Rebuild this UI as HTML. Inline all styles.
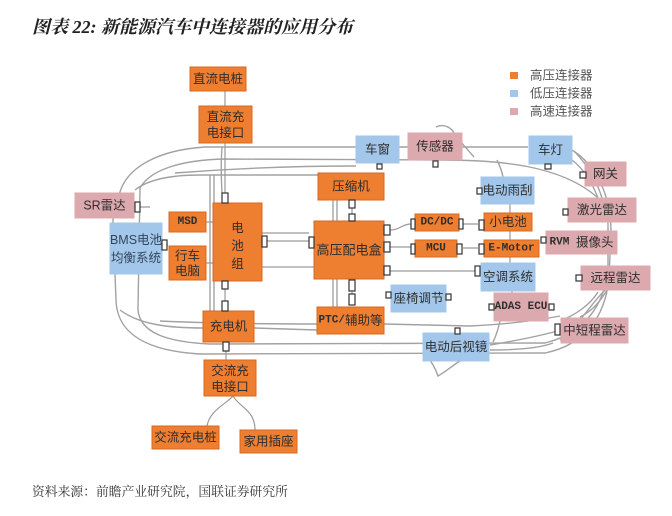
<!DOCTYPE html>
<html><head><meta charset="utf-8">
<style>
html,body{margin:0;padding:0;background:#fff;}
body{width:672px;height:516px;overflow:hidden;position:relative;}
svg{position:absolute;left:0;top:0;}
.t{font-family:"Liberation Sans","Noto Sans CJK SC",sans-serif;font-size:12.5px;fill:#2e2e2e;text-anchor:middle;dominant-baseline:central;}
.m{font-family:"Liberation Mono","Noto Sans CJK SC",monospace;font-size:11px;fill:#2e2e2e;text-anchor:middle;dominant-baseline:central;font-weight:bold;}
.o{fill:#EE7E30;stroke:#D8691E;stroke-width:1;}
.b{fill:#A3C7EA;stroke:#A3C7EA;stroke-width:1;}
.p{fill:#DCA9AE;stroke:#DCA9AE;stroke-width:1;}
.car{fill:none;stroke:#a2a2a2;stroke-width:1.4;}
.ln{fill:none;stroke:#9a9a9a;stroke-width:1.2;}
.c{fill:#fff;stroke:#333;stroke-width:1.2;}
.lg{font-family:"Liberation Sans","Noto Sans CJK SC",sans-serif;font-size:12.5px;fill:#555;dominant-baseline:central;}
</style></head><body>
<svg width="672" height="516" viewBox="0 0 672 516" xmlns="http://www.w3.org/2000/svg">
<text x="32" y="27" style="font-family:'Liberation Serif','Noto Serif CJK SC',serif;font-size:18px;font-weight:bold;font-style:italic;fill:#222;dominant-baseline:central;">图表 22: 新能源汽车中连接器的应用分布</text>

<!-- car outline -->
<path class="car" d="M120,192 C128,166 160,150 205,147 L528,147 M572,150 C596,165 611,195 611,232 L609,278 C605,318 584,345 545,353 L200,354 C148,351 117,335 116,300 L113,222 C113,206 116,198 120,192"/>
<path class="car" d="M140,188 C150,170 180,160 225,159 L440,160 C500,160 560,165 597,197 L608,222 L608,270 C604,305 585,333 545,343 L210,344 C165,342 140,332 138,310 Z"/>
<path class="car" d="M135,190 C150,178 175,175 200,175 L318,175"/>
<path class="car" d="M175,173 C240,168 300,166 356,166"/>
<path class="car" d="M160,321 C200,323 260,324 317,324 M384,324 L470,326 C510,324 540,320 560,316"/>
<path class="car" d="M120,310 C140,325 170,328 203,328 M254,328 L317,330"/>
<path class="car" d="M210,175 L210,323 M214,175 L214,323 M333,175 L333,323 M337,200 L337,307"/>
<path class="car" d="M222,147 C221,160 221,175 222,193"/>
<path class="car" d="M436,127 C442,124 448,126 452,130 C460,142 468,150 474,157"/>
<path class="car" d="M497,160 C500,166 502,172 503,177"/>
<path class="car" d="M572,160 C585,170 593,185 598,198 M575,152 C590,168 598,185 602,198"/>
<path class="car" d="M607,290 C598,305 590,312 580,317 M598,292 C590,305 575,315 562,320 M553,343 C540,348 520,350 490,350"/>
<path class="car" d="M490,345 C520,340 540,336 561,330 M560,340 C575,330 590,305 605,290"/>
<path class="car" d="M426,355 C432,362 436,370 438,376 C445,372 452,366 460,361"/>
<path class="car" d="M500,321 C498,330 496,336 493,342"/>

<!-- connection lines -->
<path class="ln" d="M225,91 L225,106 M225,143 L225,193 M225,289 L225,301 M226,351 L226,360"/>
<path class="ln" d="M262,233 L309,233 M262,241 L309,241 M262,267 L314,267"/>
<path class="ln" d="M206,222 L213,222 M206,263 L213,263 M140,207 L150,207 M162,245 L168,245"/>
<path class="ln" d="M352,208 L352,214 M352,291 L352,294"/>
<path class="ln" d="M390,230 C400,230 402,224 411,224 M463,224 L478,224 M390,247 L411,247 M463,248 L478,248 M390,271 L475,271"/>
<path class="ln" d="M510,204 L510,213 M510,231 L510,240 M510,257 L510,263 M512,291 L512,293"/>
<path class="ln" d="M233,396 C225,405 210,410 207,426 M233,396 C240,408 255,410 255,430"/>

<!-- boxes -->
<rect class="o" x="190" y="67" width="56" height="24"/><text class="t" x="218" y="79">直流电桩</text>
<rect class="o" x="199" y="106" width="53" height="37"/><text class="t" x="225.5" y="117">直流充</text><text class="t" x="225.5" y="133">电接口</text>
<rect class="p" x="75" y="193" width="59" height="25"/><text class="t" x="104.5" y="205.5">SR雷达</text>
<rect class="b" x="110" y="223" width="52" height="51"/><text class="t" x="136" y="240" style="fill:#34455e">BMS电池</text><text class="t" x="136" y="258" style="fill:#34455e">均衡系统</text>
<rect class="o" x="169" y="212" width="37" height="20"/><text class="m" x="187.5" y="222">MSD</text>
<rect class="o" x="169" y="246" width="37" height="34"/><text class="t" x="187.5" y="256">行车</text><text class="t" x="187.5" y="271">电脑</text>
<rect class="o" x="213" y="203" width="49" height="78"/><text class="t" x="237.5" y="228">电</text><text class="t" x="237.5" y="246">池</text><text class="t" x="237.5" y="264">组</text>
<rect class="o" x="318" y="173" width="66" height="27"/><text class="t" x="351" y="186.5">压缩机</text>
<rect class="o" x="314" y="221" width="70" height="58"/><text class="t" x="349" y="250" style="font-size:13px">高压配电盒</text>
<rect class="o" x="317" y="307" width="67" height="27"/><text class="t" x="350.5" y="320.5"><tspan style="font-family:'Liberation Mono',monospace;font-size:11px;font-weight:bold">PTC/</tspan>辅助等</text>
<rect class="o" x="203" y="311" width="51" height="31"/><text class="t" x="228.5" y="326.5">充电机</text>
<rect class="o" x="204" y="360" width="52" height="36"/><text class="t" x="230" y="371">交流充</text><text class="t" x="230" y="387">电接口</text>
<rect class="o" x="152" y="426" width="67" height="23"/><text class="t" x="185.5" y="437.5">交流充电桩</text>
<rect class="o" x="240" y="430" width="57" height="23"/><text class="t" x="268.5" y="441.5">家用插座</text>
<rect class="b" x="356" y="136" width="43" height="27"/><text class="t" x="377.5" y="149.5">车窗</text>
<rect class="p" x="408" y="133" width="54" height="27"/><text class="t" x="435" y="146.5">传感器</text>
<rect class="b" x="529" y="136" width="43" height="28"/><text class="t" x="550.5" y="150">车灯</text>
<rect class="p" x="585" y="162" width="41" height="24"/><text class="t" x="605.5" y="174">网关</text>
<rect class="b" x="481" y="177" width="53" height="27"/><text class="t" x="507.5" y="190.5">电动雨刮</text>
<rect class="p" x="568" y="198" width="68" height="24"/><text class="t" x="602" y="210">激光雷达</text>
<rect class="o" x="415" y="214" width="44" height="17"/><text class="m" x="437" y="222.5">DC/DC</text>
<rect class="o" x="484" y="213" width="48" height="18"/><text class="t" x="508" y="222">小电池</text>
<rect class="o" x="415" y="240" width="42" height="17"/><text class="m" x="436" y="248.5">MCU</text>
<rect class="o" x="484" y="240" width="55" height="17"/><text class="m" x="511.5" y="248.5">E-Motor</text>
<rect class="p" x="546" y="231" width="71" height="23"/><text class="t" x="581.5" y="242.5"><tspan style="font-family:'Liberation Mono',monospace;font-size:11px;font-weight:bold">RVM </tspan>摄像头</text>
<rect class="b" x="481" y="263" width="54" height="28"/><text class="t" x="508" y="277">空调系统</text>
<rect class="p" x="581" y="266" width="69" height="24"/><text class="t" x="615.5" y="278">远程雷达</text>
<rect class="b" x="391" y="285" width="55" height="27"/><text class="t" x="418.5" y="298.5">座椅调节</text>
<rect class="p" x="494" y="293" width="54" height="28"/><text class="m" x="521" y="307">ADAS ECU</text>
<rect class="p" x="561" y="318" width="67" height="25"/><text class="t" x="594.5" y="330.5">中短程雷达</text>
<rect class="b" x="423" y="333" width="66" height="28"/><text class="t" x="456" y="347">电动后视镜</text>

<!-- connectors -->
<rect class="c" x="135" y="202" width="5" height="10"/>
<rect class="c" x="162" y="240" width="5" height="10"/>
<rect class="c" x="222" y="193" width="6" height="10"/>
<rect class="c" x="222" y="281" width="6" height="8"/>
<rect class="c" x="222" y="301" width="6" height="10"/>
<rect class="c" x="223" y="342" width="6" height="9"/>
<rect class="c" x="262" y="236" width="5" height="11"/>
<rect class="c" x="309" y="237" width="5" height="11"/>
<rect class="c" x="349" y="200" width="6" height="8"/>
<rect class="c" x="349" y="214" width="6" height="7"/>
<rect class="c" x="349" y="280" width="6" height="11"/>
<rect class="c" x="349" y="294" width="6" height="11"/>
<rect class="c" x="384" y="225" width="6" height="10"/>
<rect class="c" x="384" y="242" width="6" height="10"/>
<rect class="c" x="384" y="266" width="6" height="9"/>
<rect class="c" x="411" y="219" width="4" height="10"/>
<rect class="c" x="459" y="219" width="4" height="10"/>
<rect class="c" x="411" y="244" width="4" height="10"/>
<rect class="c" x="457" y="244" width="5" height="10"/>
<rect class="c" x="479" y="220" width="5" height="10"/>
<rect class="c" x="479" y="244" width="5" height="10"/>
<rect class="c" x="475" y="266" width="5" height="10"/>
<rect class="c" x="477" y="188" width="5" height="6"/>
<rect class="c" x="386" y="292" width="5" height="6"/>
<rect class="c" x="446" y="294" width="5" height="6"/>
<rect class="c" x="489" y="304" width="5" height="6"/>
<rect class="c" x="549" y="304" width="5" height="6"/>
<rect class="c" x="455" y="328" width="5" height="6"/>
<rect class="c" x="377" y="164" width="5" height="5"/>
<rect class="c" x="433" y="161" width="5" height="6"/>
<rect class="c" x="545" y="164" width="6" height="5"/>
<rect class="c" x="580" y="172" width="6" height="6"/>
<rect class="c" x="563" y="209" width="5" height="6"/>
<rect class="c" x="541" y="237" width="5" height="6"/>
<rect class="c" x="576" y="275" width="6" height="6"/>
<rect class="c" x="555" y="324" width="5" height="11"/>

<!-- legend -->
<rect x="510" y="72" width="8" height="7" fill="#EE7E30"/><text class="lg" x="530" y="75.5">高压连接器</text>
<rect x="510" y="90" width="8" height="7" fill="#A3C7EA"/><text class="lg" x="530" y="93.5">低压连接器</text>
<rect x="510" y="108" width="8" height="7" fill="#DCA9AE"/><text class="lg" x="530" y="111.5">高速连接器</text>

<text x="32" y="492" style="font-family:'Liberation Serif','Noto Serif CJK SC',serif;font-size:12.8px;fill:#333;dominant-baseline:central;">资料来源：前瞻产业研究院，国联证券研究所</text>
</svg>
</body></html>
